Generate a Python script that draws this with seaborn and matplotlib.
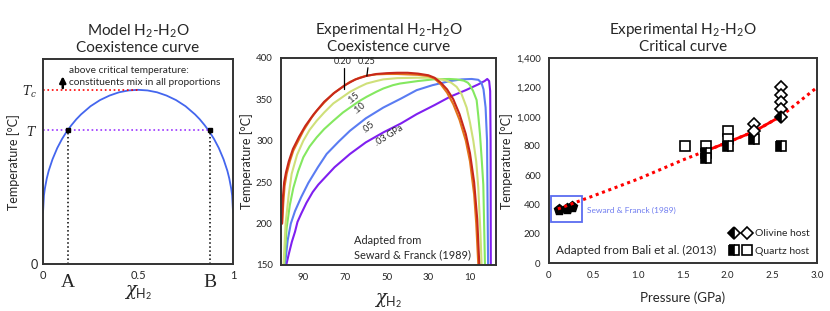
import pandas as pd
import seaborn as sns
import matplotlib.pyplot as plt
from matplotlib.ticker import FuncFormatter, MultipleLocator, StrMethodFormatter
from matplotlib.lines import Line2D
from matplotlib.legend_handler import HandlerTuple
from matplotlib.patches import Rectangle

# ---- panel 1: model coexistence curve
model_x = [0, 0.005, 0.01, 0.02, 0.03, 0.05, 0.075, 0.1, 0.125, 0.15, 0.175, 0.2, 0.25, 0.3, 0.35, 0.4, 0.45, 0.5,
           0.55, 0.6, 0.65, 0.7, 0.75, 0.8, 0.825, 0.85, 0.875, 0.9, 0.925, 0.95, 0.97, 0.98, 0.99, 0.995, 1]
model_t = [0.25, 0.335, 0.369, 0.418, 0.455, 0.511, 0.566, 0.61, 0.647, 0.678, 0.706, 0.73, 0.77, 0.80, 0.822, 0.838, 0.847, 0.85,
           0.847, 0.838, 0.822, 0.80, 0.77, 0.73, 0.706, 0.678, 0.647, 0.61, 0.566, 0.511, 0.455, 0.418, 0.369, 0.335, 0.25]
tc_level = 0.85
t_level = 0.656
x_a = 0.132
x_b = 0.877

# ---- panel 2: experimental coexistence curves, Seward & Franck (1989)
p_labels = ['0.25', '0.20', '0.15', '0.10', '0.05', '0.03']
p_colors = ['#c8281a', '#e2741c', '#cfe07a', '#84e860', '#5a7cf2', '#7f1ff0']
x25 = [100.5, 100.2, 99.8, 99.2, 98.3, 97, 95, 92, 89, 85, 80, 75, 70, 65, 60, 55, 50, 45, 40, 35, 30, 27, 24, 21, 18, 15, 12, 10, 8, 6.5, 5.5]
t25 = [200, 200, 232, 250, 262, 275, 290, 305, 318, 332, 347, 358, 367, 374, 378, 380.5, 381.5, 382, 382, 381, 379, 376, 370, 362, 350, 332, 308, 285, 250, 205, 150]
x20 = [100.2, 99.6, 99, 98, 96.5, 94.8, 92, 90, 86, 83.6, 80, 75.6, 70, 67.6, 63, 59.6, 55, 50, 45, 40, 35, 30, 27, 24, 21, 18, 15, 12, 10, 8, 7, 6]
t20 = [200, 225, 245, 260, 275, 288, 302, 312, 328, 336, 346, 357, 367, 371, 376, 378.5, 380, 380.5, 380.5, 380, 379.5, 378, 375, 368, 358, 344, 325, 300, 275, 235, 200, 150]
x15 = [99.5, 98.5, 97, 95.6, 93, 90, 87, 83.6, 80, 75.6, 71, 67.6, 63, 59.6, 55, 51.6, 45, 35.6, 30, 26, 22, 19, 16.4, 14, 11.6, 10, 8.4, 7, 6, 5, 4.4]
t15 = [150, 200, 235, 260, 283, 300, 313, 324, 334, 345, 353, 359, 365, 369, 372, 374, 375.5, 376, 376, 375, 373, 370, 365, 356, 340, 322, 300, 275, 243, 190, 150]
x10 = [99.2, 98, 96.5, 94.8, 92.5, 90, 87, 83.6, 80, 75.6, 71, 67.6, 63, 59.6, 55, 51.6, 47, 43.6, 35, 27.6, 20, 16.4, 13, 11, 10, 8.5, 6.8, 6, 5.2, 4.3, 3.6, 2.8]
t10 = [150, 195, 222, 243, 263, 280, 293, 304, 314, 324, 334, 340, 348, 353, 359, 363, 367, 369, 372, 374, 374.5, 374, 372.5, 370, 367, 360, 349, 330, 308, 275, 247, 150]
x05 = [98.8, 97.5, 96, 94, 91, 87.6, 83, 78.8, 73, 67.6, 60, 51.6, 43, 35.6, 28, 19.6, 14, 9.2, 6, 4.5, 3.5, 2.5, 1.8, 1.3]
t05 = [150, 180, 200, 215, 232, 249, 268, 284, 299, 312, 327, 340, 351, 361, 367, 372, 374, 374.5, 373.5, 370, 362, 340, 300, 150]
x03 = [98.2, 97, 95.5, 94, 92.8, 91, 88.5, 85.5, 82.8, 75, 67.6, 60, 51.6, 43, 35.6, 27, 19.6, 12, 6, 3, 1.7, 0.8, 0.3, 0.1, 0.0]
t03 = [150, 163, 178, 190, 202, 212, 225, 238, 247, 268, 284, 298, 310, 321, 332, 343, 353, 361, 368, 372, 374.5, 372, 360, 300, 150]
p_x = [x25, x20, x15, x10, x05, x03]
p_t = [t25, t20, t15, t10, t05, t03]

# ---- panel 3: critical curve, Bali et al. (2013)
crit_p = [0.1, 0.5, 1.0, 1.5, 1.75, 2.0, 2.3, 2.6, 3.0]
crit_t = [370, 460, 575, 705, 765, 825, 900, 1005, 1200]
solid_p = [1.75, 2.0, 2.3, 2.6]
solid_t = [765, 825, 900, 1005]
sf_p = [0.11, 0.2, 0.26]
sf_t = [365, 368, 380]
ol_half_p = [2.6]
ol_half_t = [1000]
ol_open_p = [2.3, 2.3, 2.6, 2.6, 2.6, 2.6]
ol_open_t = [950, 900, 1200, 1150, 1100, 1050]
qz_half_p = [1.76, 1.76, 2.0, 2.3, 2.6]
qz_half_t = [755, 715, 800, 850, 800]
qz_open_p = [1.52, 1.76, 2.0, 2.0]
qz_open_t = [800, 800, 900, 850]

sns.set_theme(style='white')
plt.rcParams['font.family'] = ['Lato', 'DejaVu Sans']
plt.rcParams['mathtext.fontset'] = 'custom'
plt.rcParams['mathtext.rm'] = 'Lato'
plt.rcParams['mathtext.it'] = 'DejaVu Serif:italic'
plt.rcParams['axes.edgecolor'] = '#333333'
plt.rcParams['axes.linewidth'] = 1.4

fig = plt.figure(figsize=(8.3, 3.11), dpi=100)
ax1 = fig.add_axes([0.0518, 0.151, 0.229, 0.659])
ax2 = fig.add_axes([0.3386, 0.148, 0.259, 0.666])
ax3 = fig.add_axes([0.6614, 0.154, 0.3229, 0.659])

# ---------- panel 1
sns.lineplot(x=model_x, y=model_t, ax=ax1, color='#4466ee', lw=1.3, sort=False, estimator=None)
ax1.plot([0, 0.5], [tc_level, tc_level], ls=':', color='red', lw=1.2)
ax1.plot([0, x_b], [t_level, t_level], ls=':', color='#9933ff', lw=1.2)
ax1.plot([x_a, x_a], [0, t_level], ls=':', color='black', lw=1.1)
ax1.plot([x_b, x_b], [0, t_level], ls=':', color='black', lw=1.1)
ax1.plot([x_a, x_b], [t_level, t_level], 's', color='black', ms=2.5)
ax1.annotate('', xy=(0.104, 0.93), xytext=(0.104, 0.845),
             arrowprops=dict(arrowstyle='-|>', color='black', lw=1.8, mutation_scale=9))
ax1.text(0.137, 0.915, 'above critical temperature:\nconstituents mix in all proportions',
         fontsize=7.3, va='center', ha='left', linespacing=1.5)
ax1.set_xlim(0, 1)
ax1.set_ylim(0, 1)
ax1.set_xticks([0, 0.5, 1])
ax1.set_xticklabels(['0', '0.5', '1'], fontsize=8)
ax1.xaxis.set_minor_locator(MultipleLocator(0.1))
ax1.tick_params(axis='x', which='both', direction='in', length=3, width=0.8, pad=4, color='#333333')
ax1.set_yticks([0, t_level, tc_level])
ax1.set_yticklabels(['0', '$T$', '$T_c$'], fontsize=9)
ax1.tick_params(axis='y', length=0, pad=4)
for lab, xx in zip(['A', 'B'], [x_a, x_b]):
    ax1.text(xx, -0.09, lab, transform=ax1.get_xaxis_transform(), ha='center', va='center',
             fontsize=14, family='Liberation Serif')
ax1.set_xlabel(r'$\chi_{\mathrm{H_2}}$', fontsize=13, labelpad=2)
ax1.set_ylabel('Temperature [°C]', fontsize=9, labelpad=2)
ax1.set_title('Model H$_2$-H$_2$O\nCoexistence curve', fontsize=11, linespacing=1.1, pad=5)

# ---------- panel 2
rows = []
for lab, xs, ts in zip(p_labels, p_x, p_t):
    for order, (xx, tt) in enumerate(zip(xs, ts)):
        rows.append({'pressure': lab, 'order': order, 'x': xx, 't': tt})
coex = pd.DataFrame(rows)
sns.lineplot(data=coex, x='x', y='t', hue='pressure', palette=dict(zip(p_labels, p_colors)),
             hue_order=p_labels[::-1], sort=False, estimator=None, lw=1.5, ax=ax2, legend=False)
ax2.set_xlim(100.7, -2.5)
ax2.set_ylim(150, 400)
ax2.set_xticks([90, 70, 50, 30, 10])
ax2.set_yticks([150, 200, 250, 300, 350, 400])
ax2.tick_params(labelsize=7, length=0, pad=6)
ax2.text(71, 395, '0.20', fontsize=6.5, ha='center', va='center')
ax2.text(59.5, 395, '0.25', fontsize=6.5, ha='center', va='center')
ax2.plot([70.5, 70.5], [388, 362], color='black', lw=0.9)
ax2.plot([59, 59.5], [388, 378], color='black', lw=0.9)
ax2.text(66, 352, '.15', fontsize=6.5, rotation=40, ha='center', va='center')
ax2.text(63, 339, '.10', fontsize=6.5, rotation=40, ha='center', va='center')
ax2.text(58.5, 317, '.05', fontsize=6.5, rotation=40, ha='center', va='center')
ax2.text(49, 306, '.03 GPa', fontsize=6.5, rotation=32, ha='center', va='center')
ax2.text(65.7, 171, 'Adapted from\nSeward & Franck (1989)', fontsize=7.9, ha='left', va='center',
         linespacing=1.35)
ax2.set_xlabel(r'$\chi_{\mathrm{H_2}}$', fontsize=13, labelpad=6)
ax2.set_ylabel('Temperature [°C]', fontsize=9, labelpad=2)
ax2.set_title('Experimental H$_2$-H$_2$O\nCoexistence curve', fontsize=11, linespacing=1.1, pad=5)

# ---------- panel 3
ax3.add_patch(Rectangle((0.026, 284), 0.344, 177, fill=False, edgecolor='#5b6cf0', lw=1.3))
ax3.plot(sf_p, sf_t, 'p', color='black', ms=8, ls='none')
sns.lineplot(x=crit_p, y=crit_t, ax=ax3, color='red', lw=2.2, ls=(0, (1, 1.2)), sort=False, estimator=None)
sns.lineplot(x=solid_p, y=solid_t, ax=ax3, color='red', lw=2, sort=False, estimator=None)
half = dict(fillstyle='left', markerfacecolor='black', markerfacecoloralt='white',
            markeredgecolor='black', markeredgewidth=1.2, ls='none')
opened = dict(markerfacecolor='white', markeredgecolor='black', markeredgewidth=1.2, ls='none')
ax3.plot(qz_open_p, qz_open_t, 's', ms=6.5, **opened)
ax3.plot(qz_half_p, qz_half_t, 's', ms=6.5, **half)
ax3.plot(ol_open_p, ol_open_t, 'D', ms=6.5, **opened)
ax3.plot(ol_half_p, ol_half_t, 'D', ms=6.5, **half)
ax3.text(0.43, 363, 'Seward & Franck (1989)', fontsize=6, color='#6f7cf0', va='center')
ax3.text(0.08, 86, 'Adapted from Bali et al. (2013)', fontsize=8.6, va='center')
h_ol = (Line2D([], [], marker='D', ms=6.5, **half), Line2D([], [], marker='D', ms=6.5, **opened))
h_qz = (Line2D([], [], marker='s', ms=6.5, **half), Line2D([], [], marker='s', ms=6.5, **opened))
ax3.legend([h_ol, h_qz], ['Olivine host', 'Quartz host'], loc='lower right', frameon=False,
           fontsize=7.5, handler_map={tuple: HandlerTuple(ndivide=None, pad=0.4)},
           handlelength=2.2, handletextpad=0.3, borderaxespad=0.3, labelspacing=0.8)
ax3.set_xlim(0, 3)
ax3.set_ylim(0, 1400)
ax3.set_xticks([0, 0.5, 1.0, 1.5, 2.0, 2.5, 3.0])
ax3.xaxis.set_major_formatter(FuncFormatter(lambda v, p: '0' if v == 0 else f'{v:.1f}'))
ax3.set_yticks(range(0, 1401, 200))
ax3.yaxis.set_major_formatter(StrMethodFormatter('{x:,.0f}'))
ax3.tick_params(labelsize=7, length=0, pad=6)
ax3.set_xlabel('Pressure (GPa)', fontsize=9.5, labelpad=8)
ax3.set_ylabel('Temperature [°C]', fontsize=9, labelpad=2)
ax3.set_title('Experimental H$_2$-H$_2$O\nCritical curve', fontsize=11, linespacing=1.1, pad=5)

fig.savefig('out.png', dpi=100)
